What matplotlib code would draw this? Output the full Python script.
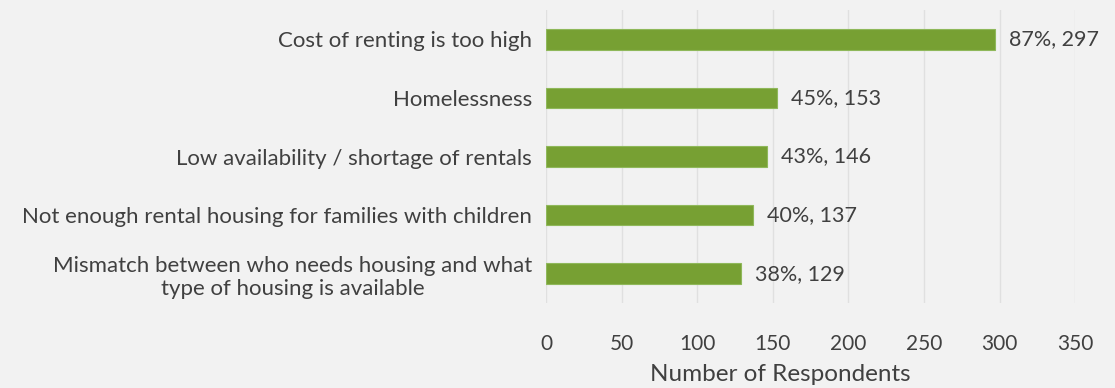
import matplotlib.pyplot as plt
import matplotlib.transforms as mtrans
import numpy as np

categories = [
    "Cost of renting is too high",
    "Homelessness",
    "Low availability / shortage of rentals",
    "Not enough rental housing for families with children",
    "Mismatch between who needs housing and what\ntype of housing is available",
]
respondents = [297, 153, 146, 137, 129]
percents = [87, 45, 43, 40, 38]

plt.rcParams['font.family'] = ['Lato', 'DejaVu Sans']
text_color = '#404040'
bg = '#f2f2f2'

fig = plt.figure(figsize=(11.15, 3.88), dpi=100, facecolor=bg)
ax = fig.add_axes([0.4897, 0.219, 0.4745, 0.755], facecolor=bg)

y = np.arange(len(categories))
ax.barh(y, respondents, height=0.35, color='#77a033', edgecolor='#8fb85a', linewidth=0.8, zorder=3)
for yi, v, p in zip(y, respondents, percents):
    ax.annotate(f"{p}%, {v}", (v, yi), xytext=(10, 0), textcoords='offset points',
                va='center', ha='left', fontsize=15.5, color=text_color)

ax.set_ylim(len(categories) - 0.5, -0.5)
ax.set_xlim(0, 350)
ax.set_xticks(np.arange(0, 351, 50))
ax.set_yticks(y)
ax.set_yticklabels(categories, fontsize=16, color=text_color, ha='center',
                   multialignment='center', linespacing=1.2)
ax.tick_params(axis='y', length=0, pad=0)
ax.tick_params(axis='x', length=0, pad=22, labelsize=15, labelcolor=text_color)
ax.grid(axis='x', color='#e0e0e0', linewidth=1, zorder=0)
for s in ax.spines.values():
    s.set_visible(False)
ax.set_xlabel("Number of Respondents", fontsize=17.5, color=text_color, va='center')
ax.xaxis.set_label_coords(0.442, -0.245)

# right-align label blocks while keeping their lines centered
fig.canvas.draw()
for lbl in ax.get_yticklabels():
    w = lbl.get_window_extent().width
    lbl.set_transform(lbl.get_transform() +
                      mtrans.ScaledTranslation(-(w / 2 + 14) / 100, 0, fig.dpi_scale_trans))

fig.savefig('out.png', dpi=100, facecolor=bg)
